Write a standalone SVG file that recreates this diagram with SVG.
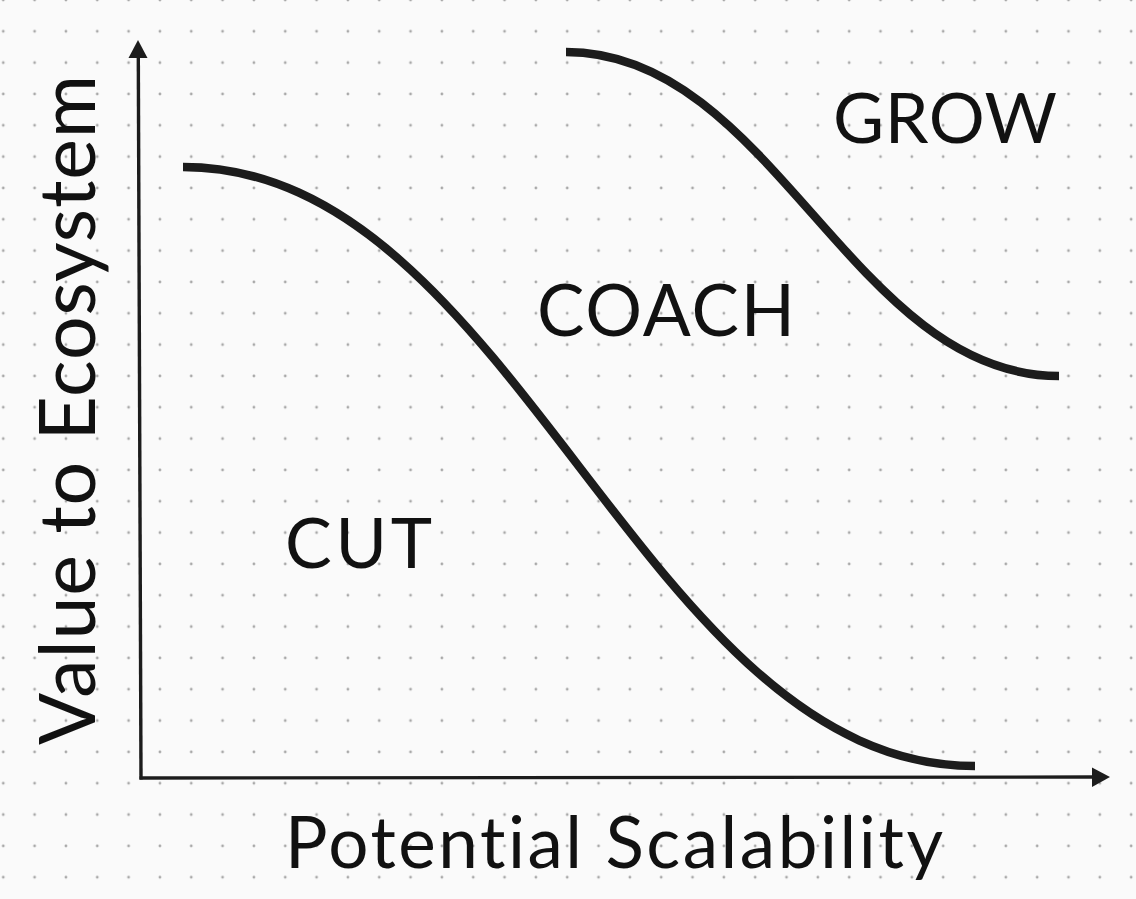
<svg xmlns="http://www.w3.org/2000/svg" width="1136" height="899" viewBox="0 0 1136 899">
  <style>
    .lbl { font-family: Lato, "Liberation Sans", sans-serif; fill: #111; font-variant-ligatures: none; font-feature-settings: "liga" 0; }
    .curve { fill: none; stroke: #1c1c1c; stroke-width: 8.5; stroke-linecap: butt; }
    .axis { fill: none; stroke: #1c1c1c; stroke-width: 3.4; }
    .head { fill: #1c1c1c; }
  </style>
  <defs>
    <pattern id="dots" patternUnits="userSpaceOnUse" x="-12.4" y="-15.67" width="31.33" height="31.33">
      <circle cx="15.67" cy="15.67" r="1.4" fill="#a8a8a8"/>
    </pattern>
  </defs>
  <rect width="1136" height="899" fill="#fafafa"/>
  <rect width="1136" height="899" fill="url(#dots)"/>
  <g id="connectors">
    <path class="axis" d="M141,779.5 L138.3,56"/>
    <polygon class="head" points="138,40 147.5,58 128.5,58"/>
    <path class="axis" d="M139.5,778 L1094,777"/>
    <polygon class="head" points="1110,777 1092,767.5 1092,787"/>
  </g>
  <g id="curve-cut-coach">
    <path class="curve" d="M183,167 C516,167 642,766 975,766"/>
  </g>
  <g id="curve-coach-grow">
    <path class="curve" d="M566,52 C773,52 852,376 1059,376"/>
  </g>
  <g id="label-y">
    <text class="lbl" transform="translate(95,745) rotate(-90)" font-size="77" textLength="670">Value to Ecosystem</text>
  </g>
  <g id="label-x">
    <text class="lbl" x="285" y="868" font-size="71" textLength="658">Potential Scalability</text>
  </g>
  <g id="node-grow">
    <text class="lbl" x="833" y="143" font-size="70" textLength="224">GROW</text>
  </g>
  <g id="node-coach">
    <text class="lbl" x="537" y="336" font-size="71" textLength="258">COACH</text>
  </g>
  <g id="node-cut">
    <text class="lbl" x="285" y="568" font-size="70" textLength="147">CUT</text>
  </g>
</svg>
